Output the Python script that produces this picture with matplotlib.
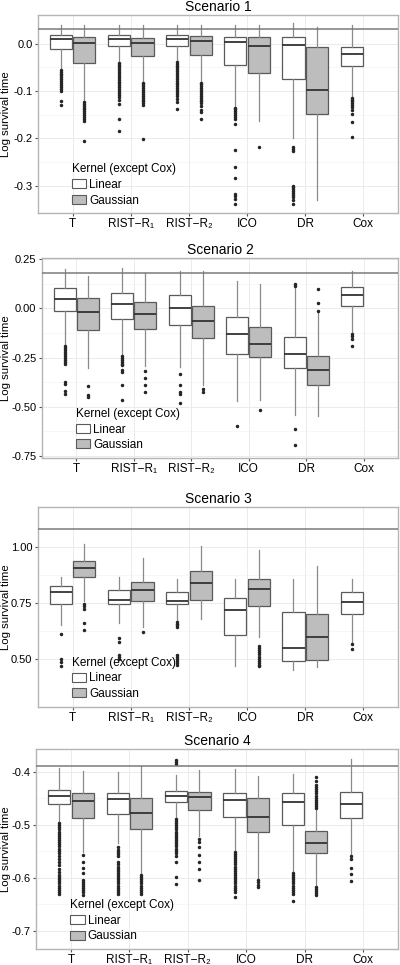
import matplotlib
matplotlib.use("Agg")
import matplotlib.pyplot as plt
from matplotlib.patches import Patch
from matplotlib.ticker import FormatStrFormatter, FixedLocator

plt.rcParams['font.family'] = ['Liberation Sans', 'DejaVu Sans']

methods = ['T', 'RIST\u2212R\u2081', 'RIST\u2212R\u2082', 'ICO', 'DR', 'Cox']
titles = ['Scenario 1', 'Scenario 2', 'Scenario 3', 'Scenario 4']

# box stats per method: (upper whisker, q3, median, q1, lower whisker)
# linear kernel has all 6 methods (Cox last), gaussian has the first 5
s1_linear = [(0.040, 0.019, 0.010, -0.011, -0.052), (0.040, 0.019, 0.011, -0.005, -0.036),
             (0.040, 0.018, 0.011, -0.004, -0.034), (0.040, 0.015, 0.003, -0.045, -0.131),
             (0.044, 0.014, -0.002, -0.075, -0.200), (0.040, -0.006, -0.022, -0.046, -0.110)]
s1_gauss = [(0.040, 0.014, 0.002, -0.041, -0.118), (0.040, 0.013, 0.001, -0.026, -0.078),
            (0.040, 0.017, 0.005, -0.023, -0.078), (0.040, 0.014, -0.005, -0.061, -0.163),
            (0.035, -0.007, -0.097, -0.148, -0.331)]
s1_linear_out = [
    [-0.055, -0.059, -0.063, -0.067, -0.071, -0.075, -0.079, -0.083, -0.087, -0.091, -0.095, -0.099, -0.122, -0.130],
    [-0.040, -0.044, -0.048, -0.052, -0.056, -0.060, -0.064, -0.068, -0.072, -0.076, -0.080, -0.084, -0.088, -0.092,
     -0.096, -0.100, -0.104, -0.108, -0.112, -0.120, -0.128, -0.160, -0.185],
    [-0.038, -0.042, -0.046, -0.050, -0.054, -0.058, -0.062, -0.066, -0.070, -0.074, -0.078, -0.082, -0.086, -0.090,
     -0.094, -0.098, -0.102, -0.106, -0.110, -0.116, -0.124, -0.137],
    [-0.135, -0.139, -0.143, -0.147, -0.151, -0.155, -0.160, -0.170, -0.225, -0.260, -0.285, -0.318, -0.322, -0.328, -0.340],
    [-0.218, -0.222, -0.226, -0.300, -0.304, -0.308, -0.312, -0.316, -0.320, -0.325, -0.330, -0.338],
    [-0.114, -0.118, -0.122, -0.126, -0.130, -0.134, -0.140, -0.148, -0.165, -0.198]]
s1_gauss_out = [
    [-0.123, -0.127, -0.131, -0.135, -0.139, -0.143, -0.147, -0.151, -0.155, -0.159, -0.163, -0.205],
    [-0.082, -0.086, -0.090, -0.094, -0.098, -0.102, -0.106, -0.110, -0.114, -0.118, -0.122, -0.126, -0.130, -0.202],
    [-0.082, -0.086, -0.090, -0.094, -0.098, -0.102, -0.106, -0.110, -0.114, -0.118, -0.122, -0.126, -0.132,
     -0.140, -0.145, -0.160],
    [-0.218],
    []]

s2_linear = [(0.203, 0.105, 0.047, -0.014, -0.186), (0.207, 0.080, 0.022, -0.051, -0.237),
             (0.190, 0.071, 0.000, -0.085, -0.297), (0.139, -0.042, -0.132, -0.231, -0.471),
             (0.102, -0.144, -0.229, -0.305, -0.542), (0.190, 0.107, 0.068, 0.012, -0.127)]
s2_gauss = [(0.166, 0.054, -0.017, -0.107, -0.300), (0.183, 0.034, -0.029, -0.105, -0.292),
            (0.190, 0.014, -0.064, -0.149, -0.390), (0.127, -0.093, -0.178, -0.249, -0.466),
            (-0.025, -0.241, -0.314, -0.390, -0.547)]
s2_linear_out = [
    [-0.19, -0.20, -0.21, -0.22, -0.23, -0.24, -0.25, -0.26, -0.27, -0.28, -0.376, -0.386, -0.42, -0.436],
    [-0.242, -0.25, -0.26, -0.27, -0.28, -0.288, -0.314, -0.325, -0.39, -0.466],
    [-0.331, -0.39, -0.427, -0.436, -0.478],
    [-0.597],
    [0.114, 0.122, -0.614, -0.693],
    [-0.132, -0.141, -0.156, -0.192]]
s2_gauss_out = [[-0.393, -0.44, -0.449], [-0.319, -0.351, -0.39, -0.424], [-0.407, -0.427],
                [-0.515], [0.098, 0.029, -0.012]]

s3_linear = [(0.866, 0.827, 0.799, 0.746, 0.649), (0.863, 0.809, 0.761, 0.742, 0.657),
             (0.858, 0.799, 0.758, 0.742, 0.669), (0.858, 0.773, 0.716, 0.607, 0.467),
             (0.854, 0.707, 0.549, 0.491, 0.448), (0.858, 0.797, 0.752, 0.701, 0.575)]
s3_gauss = [(1.012, 0.937, 0.906, 0.863, 0.758), (0.948, 0.843, 0.809, 0.758, 0.642),
            (1.003, 0.893, 0.839, 0.761, 0.675), (0.988, 0.858, 0.813, 0.737, 0.597),
            (0.913, 0.699, 0.597, 0.493, 0.463)]
s3_linear_out = [
    [0.612, 0.500, 0.485, 0.467],
    [0.590, 0.575, 0.515, 0.508, 0.500],
    [0.664, 0.656, 0.648, 0.642, 0.515, 0.506, 0.497, 0.488, 0.479, 0.470],
    [], [],
    [0.564, 0.542]]
s3_gauss_out = [
    [0.746, 0.734, 0.720, 0.661, 0.627],
    [0.619],
    [],
    [0.557, 0.545, 0.536, 0.527, 0.518, 0.509, 0.500, 0.491, 0.482, 0.473, 0.465],
    []]

s4_linear = [(-0.392, -0.435, -0.445, -0.460, -0.494), (-0.400, -0.441, -0.452, -0.480, -0.535),
             (-0.406, -0.436, -0.445, -0.457, -0.487), (-0.395, -0.441, -0.453, -0.485, -0.548),
             (-0.405, -0.441, -0.457, -0.501, -0.588), (-0.376, -0.438, -0.460, -0.487, -0.557)]
s4_gauss = [(-0.399, -0.441, -0.455, -0.488, -0.551), (-0.389, -0.449, -0.477, -0.508, -0.592),
            (-0.397, -0.439, -0.448, -0.473, -0.522), (-0.408, -0.450, -0.485, -0.513, -0.602),
            (-0.472, -0.512, -0.534, -0.554, -0.614)]
s4_linear_out = [
    [-0.497, -0.501, -0.505, -0.509, -0.513, -0.517, -0.521, -0.525, -0.529, -0.533, -0.537, -0.541, -0.545,
     -0.549, -0.553, -0.559, -0.565, -0.571, -0.577, -0.583, -0.589, -0.595, -0.599, -0.603, -0.607, -0.611,
     -0.615, -0.619, -0.623, -0.627, -0.631],
    [-0.543, -0.547, -0.551, -0.555, -0.560, -0.571, -0.575, -0.579, -0.583, -0.587, -0.591, -0.595, -0.599,
     -0.603, -0.607, -0.611, -0.615, -0.619, -0.623, -0.627, -0.631],
    [-0.378, -0.382, -0.386, -0.489, -0.493, -0.497, -0.501, -0.505, -0.509, -0.513, -0.517, -0.521, -0.525,
     -0.529, -0.533, -0.537, -0.541, -0.545, -0.549, -0.554, -0.560, -0.570, -0.598, -0.612],
    [-0.551, -0.555, -0.559, -0.563, -0.567, -0.571, -0.575, -0.579, -0.583, -0.587, -0.591, -0.595, -0.599,
     -0.603, -0.607, -0.611, -0.615, -0.619, -0.623, -0.627, -0.636],
    [-0.591, -0.595, -0.599, -0.603, -0.607, -0.611, -0.615, -0.619, -0.623, -0.627, -0.631, -0.644],
    [-0.560, -0.564, -0.582, -0.593, -0.607]]
s4_gauss_out = [
    [-0.557, -0.571, -0.582, -0.592, -0.604, -0.608, -0.612, -0.616, -0.620, -0.624, -0.628, -0.632],
    [-0.595, -0.599, -0.603, -0.607, -0.611, -0.615, -0.619, -0.623, -0.627, -0.631],
    [-0.527, -0.532, -0.543, -0.558, -0.571, -0.583, -0.605],
    [-0.605, -0.609, -0.613, -0.617],
    [-0.409, -0.418, -0.425, -0.429, -0.433, -0.437, -0.441, -0.445, -0.449, -0.453, -0.457, -0.461, -0.465,
     -0.469, -0.617, -0.621, -0.625, -0.629, -0.632]]

# true log survival time (horizontal line)
truth = [0.031, 0.182, 1.079, -0.389]
ylims = [(-0.358, 0.061), (-0.76, 0.257), (0.283, 1.179), (-0.735, -0.357)]
yticks = [[-0.3, -0.2, -0.1, 0.0], [-0.75, -0.5, -0.25, 0.0, 0.25], [0.5, 0.75, 1.0], [-0.7, -0.6, -0.5, -0.4]]
yfmt = ['%.1f', '%.2f', '%.2f', '%.1f']

linear_all = [s1_linear, s2_linear, s3_linear, s4_linear]
gauss_all = [s1_gauss, s2_gauss, s3_gauss, s4_gauss]
linear_out_all = [s1_linear_out, s2_linear_out, s3_linear_out, s4_linear_out]
gauss_out_all = [s1_gauss_out, s2_gauss_out, s3_gauss_out, s4_gauss_out]

# axes rectangles (left, bottom, width, height) in figure fraction
rects = [[0.095, 0.7793, 0.900, 0.2052],
         [0.105, 0.5254, 0.890, 0.2073],
         [0.095, 0.2674, 0.900, 0.2073],
         [0.090, 0.0165, 0.905, 0.2073]]

LIN_FILL = 'white'
GAU_FILL = '#bdbdbd'
EDGE = '#5a5a5a'
WHISK = '#8a8a8a'


def to_stats(rows, outs):
    stats = []
    for (hi, q3, med, q1, lo), fl in zip(rows, outs):
        stats.append(dict(whishi=hi, q3=q3, med=med, q1=q1, whislo=lo, fliers=fl))
    return stats


def draw_boxes(ax, stats, positions, fill):
    ax.bxp(stats, positions=positions, widths=0.38, patch_artist=True, showcaps=False,
           boxprops=dict(facecolor=fill, edgecolor=EDGE, linewidth=0.9),
           medianprops=dict(color='#333333', linewidth=1.3),
           whiskerprops=dict(color=WHISK, linewidth=0.9),
           flierprops=dict(marker='o', markersize=1.5, markerfacecolor='#262626',
                           markeredgecolor='#262626', linestyle='none'),
           manage_ticks=False, zorder=3)


fig = plt.figure(figsize=(4.0, 9.65), dpi=100)
for i in range(4):
    ax = fig.add_axes(rects[i])
    ax.set_xlim(0.4, 6.6)
    ax.set_ylim(*ylims[i])
    lin_pos = [k + 1 - 0.2 for k in range(6)]
    gau_pos = [k + 1 + 0.2 for k in range(5)]
    draw_boxes(ax, to_stats(linear_all[i], linear_out_all[i]), lin_pos, LIN_FILL)
    draw_boxes(ax, to_stats(gauss_all[i], gauss_out_all[i]), gau_pos, GAU_FILL)
    ax.axhline(truth[i], color='#7a7a7a', linewidth=1.1, zorder=4)

    ax.set_xticks(range(1, 7))
    ax.set_xticklabels(methods, fontsize=8.5)
    ax.yaxis.set_major_locator(FixedLocator(yticks[i]))
    minors = [(a + b) / 2 for a, b in zip(yticks[i][:-1], yticks[i][1:])]
    ax.yaxis.set_minor_locator(FixedLocator(minors))
    ax.yaxis.set_major_formatter(FormatStrFormatter(yfmt[i]))
    ax.tick_params(axis='y', labelsize=8, length=2.5, color='#555555', pad=1.5)
    ax.tick_params(axis='y', which='minor', length=0)
    ax.tick_params(axis='x', length=2.5, color='#555555', pad=1)
    ax.grid(True, which='major', color='#ebebeb', linewidth=0.7, zorder=0)
    ax.grid(True, which='minor', axis='y', color='#f2f2f2', linewidth=0.4, zorder=0)
    ax.set_axisbelow(True)
    for sp in ax.spines.values():
        sp.set_color('#b5b5b5')
        sp.set_linewidth(1.0)
    ax.set_title(titles[i], fontsize=10, pad=3)
    ax.set_ylabel('Log survival time', fontsize=8.2, va='center')
    # y label centred ~6 px from the figure's left edge
    fig_x = 6.0 / 400
    ax.yaxis.set_label_coords((fig_x - rects[i][0]) / rects[i][2], 0.5)

    handles = [Patch(facecolor=LIN_FILL, edgecolor=EDGE, linewidth=0.8),
               Patch(facecolor=GAU_FILL, edgecolor=EDGE, linewidth=0.8)]
    leg = ax.legend(handles, ['Linear', 'Gaussian'], title='Kernel (except Cox)',
                    loc='upper left', bbox_to_anchor=(0.095, 0.25), frameon=False,
                    fontsize=8.5, title_fontsize=8.5, borderpad=0, borderaxespad=0,
                    handlelength=1.2, handleheight=0.8, handletextpad=0.25,
                    labelspacing=0.3, alignment='left')
    leg.set_zorder(5)

fig.savefig('out.png', dpi=100)
